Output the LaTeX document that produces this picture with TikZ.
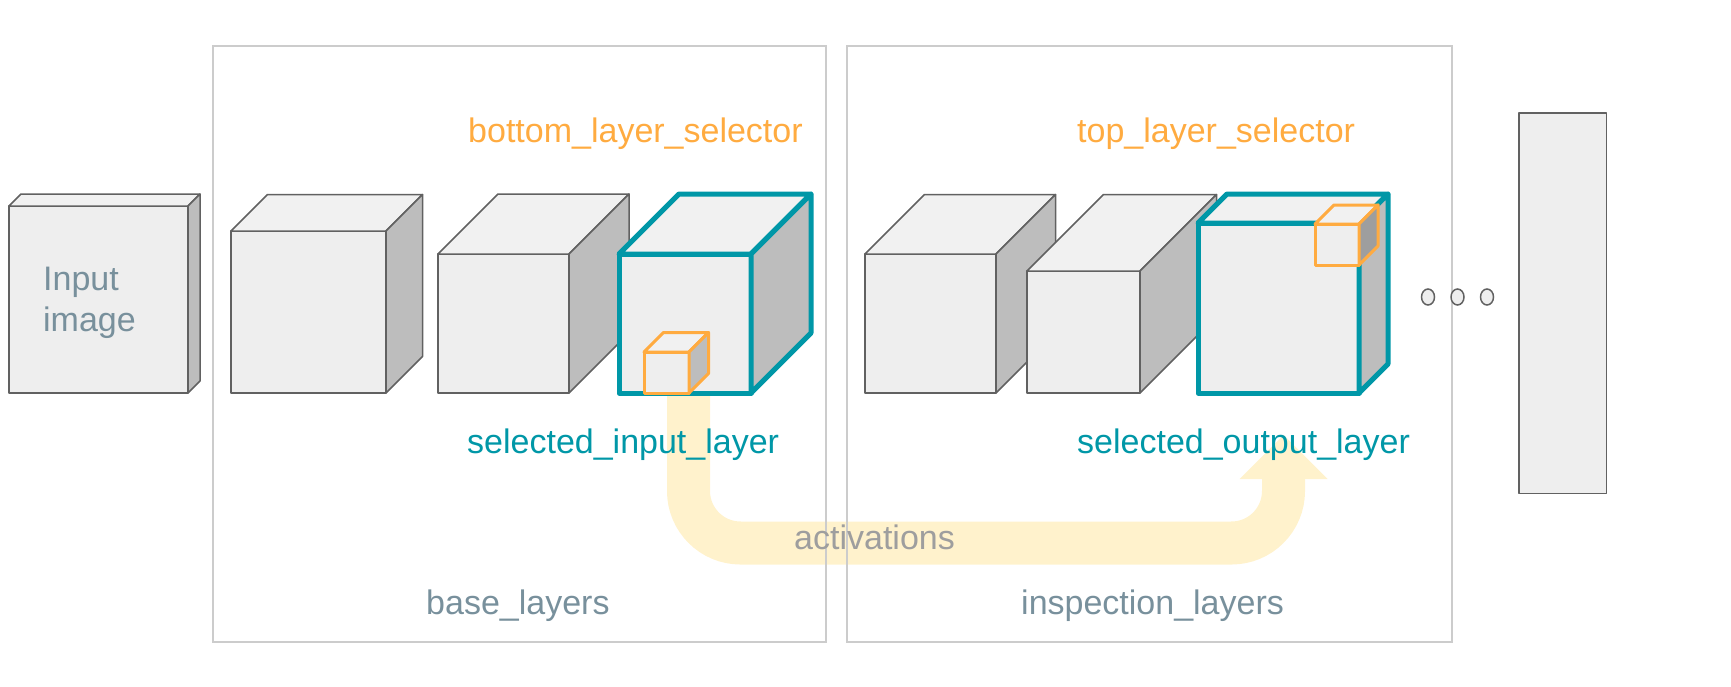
\documentclass[tikz,border=0pt]{standalone}
\usepackage{fontspec}
\setmainfont{Liberation Sans}
\usetikzlibrary{arrows.meta,shapes.geometric,backgrounds}
\definecolor{selteal}{HTML}{0097A7}
\definecolor{pickorange}{HTML}{FFAB40}
\definecolor{slate}{HTML}{78909C}
\definecolor{frontgray}{HTML}{EEEEEE}
\definecolor{topgray}{HTML}{F1F1F1}
\definecolor{sidegray}{HTML}{BDBDBD}
\definecolor{darkside}{HTML}{9E9E9E}
\definecolor{edgegray}{HTML}{616161}
\definecolor{panelgray}{HTML}{CCCCCC}
\definecolor{actyellow}{HTML}{FFF2CC}
\definecolor{actgray}{HTML}{9E9E9E}
\newcommand{\layercube}[7][]{%
\node[front,#1,minimum width=#5pt,minimum height=#6pt] (#2) at (#3,#4) {};
\draw[cubeline,fill=topgray,#1] (#2.north west) -- ++(#7,-#7) -- ++(#5,0) -- (#2.north east) -- cycle;
\draw[cubeline,fill=sidegray,#1,cubeside] (#2.north east) -- ++(#7,-#7) -- ++(0,#6) -- (#2.south east) -- cycle;}
\tikzset{front/.style={draw=edgegray,fill=frontgray,line width=1.5pt,line join=round,anchor=north west,inner sep=0pt,outer sep=0pt},cubeline/.style={draw=edgegray,line width=1.5pt,line join=round},cubeside/.style={},sel/.style={draw=selteal,line width=5pt},pick/.style={draw=pickorange,line width=3pt},panel/.style={draw=panelgray,line width=1.6pt,anchor=north west,inner sep=0pt},lbl/.style={font=\fontsize{34}{41}\selectfont,inner sep=0pt,anchor=base west},band/.style={actyellow,line width=43pt,rounded corners=52pt,-{Triangle[width=88pt,length=44pt,line width=0pt]}},dotn/.style={ellipse,draw=edgegray,fill=frontgray,line width=1.5pt,minimum width=13pt,minimum height=16pt,inner sep=0pt}}

\begin{document}
\begin{tikzpicture}[x=1pt,y=-1pt]
\useasboundingbox (0,0) rectangle (1731,686);
\layercube{inimg}{9}{206}{179}{187}{12}
\layercube{convA}{231}{231}{155}{162}{36.5}
\layercube{convB}{438}{254}{131}{139}{60}
\layercube[sel]{selin}{619}{254}{132}{139}{60}
\layercube[pick]{pickin}{644}{352}{45}{41}{19.5}
\layercube{convC}{865}{254}{131}{139}{59.5}
\layercube{convD}{1027}{271}{113}{122}{76.5}
\layercube[sel]{selout}{1198}{223}{161}{170}{29}
\layercube[pick,cubeside/.style={fill=darkside}]{pickout}{1315}{224}{44}{41}{19}
\foreach \i/\x in {1/1428,2/1457.5,3/1487}{\node[dotn] (dot\i) at (\x,297) {};}
\node[front,minimum width=87.6pt,minimum height=380.6pt] (outlayer) at (1519,113) {};
\coordinate (acttip) at (1283.5,435);
\begin{scope}[on background layer]
\draw[band] ([xshift=3.5pt]selin.south) -- ++(0,150) -| (acttip);
\node[panel,minimum width=613pt,minimum height=596pt] (base) at (212,45) {};
\node[panel,minimum width=605pt,minimum height=596pt] (insp) at (846,45) {};
\end{scope}
\node[lbl,slate,align=left] (inlbl) at (43,331) {Input\\image};
\node[lbl,pickorange] (botsel) at (468,142.7) {bottom\_layer\_selector};
\node[lbl,pickorange] (topsel) at (1077,142.7) {top\_layer\_selector};
\node[lbl,selteal] (selinlbl) at (467,453.3) {selected\_input\_layer};
\node[lbl,selteal] (seloutlbl) at (1077,453.3) {selected\_output\_layer};
\node[lbl,actgray] (actlbl) at (794,549) {activations};
\node[lbl,slate] (baselbl) at (426,614.3) {base\_layers};
\node[lbl,slate] (insplbl) at (1021,614.3) {inspection\_layers};
\end{tikzpicture}
\end{document}
